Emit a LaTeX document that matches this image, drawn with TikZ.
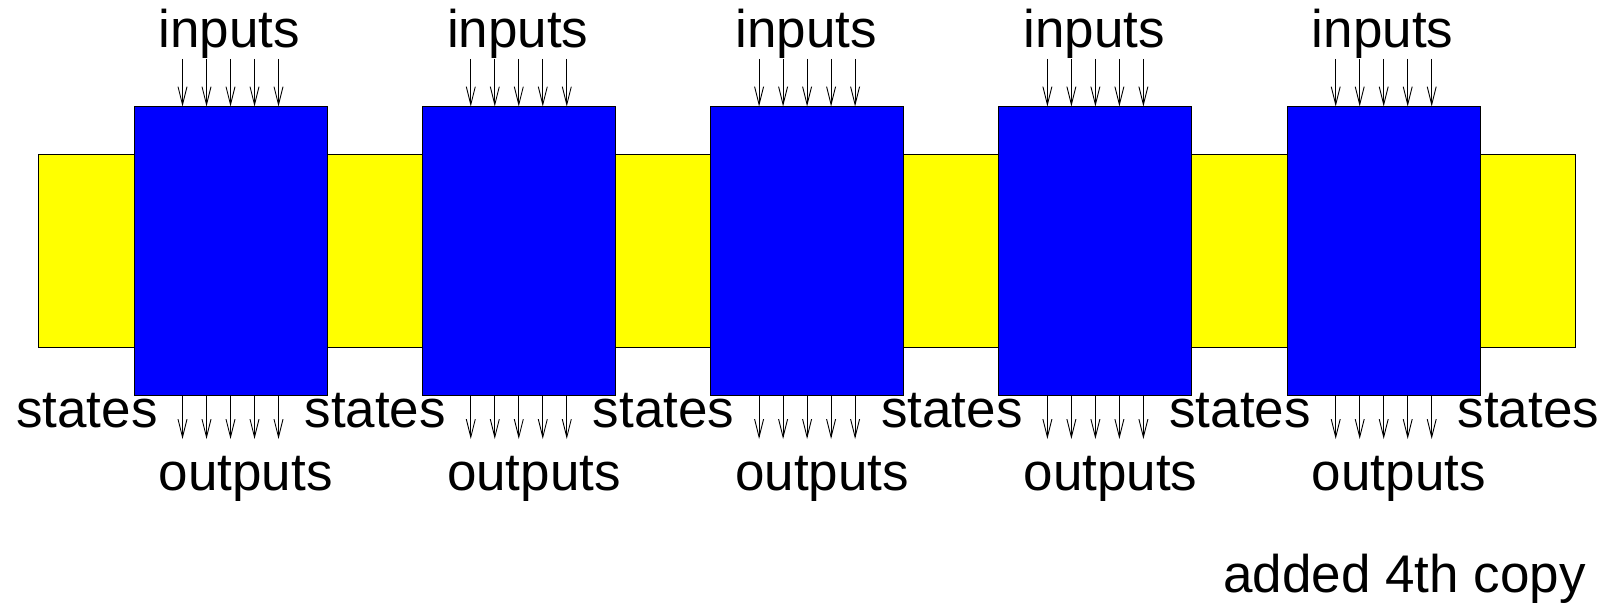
\documentclass[tikz,border=0pt]{standalone}
\usepackage{fontspec}
\setmainfont{Liberation Sans}
\usetikzlibrary{arrows.meta}
\definecolor{stateyellow}{RGB}{255,255,0}
\definecolor{unitblue}{RGB}{0,0,255}
\begin{document}
\begin{tikzpicture}[x=1pt,y=-1pt,
  lbl/.style={inner sep=0pt, anchor=base west, font=\fontsize{53}{63}\selectfont},
  band/.style={draw=black, fill=stateyellow, line width=1pt, inner sep=0pt,
    minimum width=1537pt, minimum height=192pt},
  unit/.style={draw=black, fill=unitblue, line width=1pt, inner sep=0pt,
    minimum width=193pt, minimum height=288pt},
  sig/.style={-{Straight Barb[length=18pt,width=9pt]}, line width=0.9pt}]
\useasboundingbox (0,0) rectangle (1603,612);
% state band running behind all copies
\node[band] (band) at (806.5,251) {};
% the five copies with their input and output lines
\foreach \k in {0,...,4} {
  \pgfmathsetmacro{\cx}{230.5+288.3*\k}
  \node[unit] (u\k) at (\cx,251) {};
  \node[lbl] (in\k) at (\cx-72,48) {inputs};
  \node[lbl] (out\k) at (\cx-72,490) {outputs};
  \foreach \j in {-2,...,2} {
    \coordinate (s\k\j) at (\cx+24*\j,59);
    \coordinate (e\k\j) at (\cx+24*\j,439);
    \draw[sig] (s\k\j) -- (s\k\j |- u\k.north);
    \draw[sig] (e\k\j |- u\k.south) -- (e\k\j);
  }
}
% state labels between the copies
\foreach \k in {0,...,5} {
  \node[lbl] (st\k) at (16+288.3*\k,427) {states};
}
\node[lbl, anchor=base east] (note) at (1586,592) {added 4th copy};
\end{tikzpicture}
\end{document}
